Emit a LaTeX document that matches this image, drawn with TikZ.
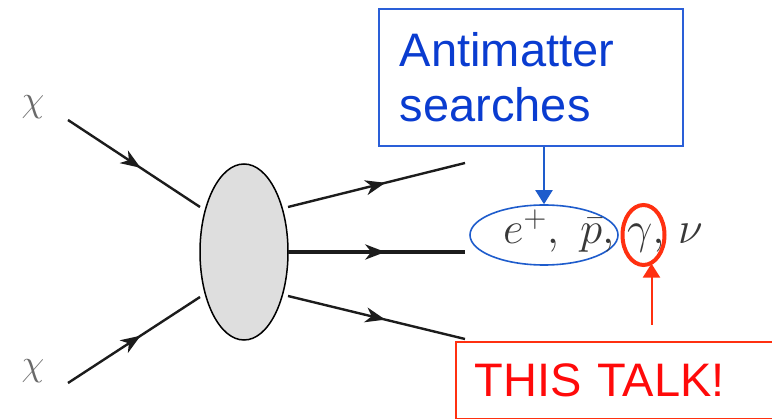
\documentclass[tikz,border=0pt]{standalone}
\usepackage{fix-cm}
\usepackage[no-math]{fontspec}
\newfontfamily\arialish{Liberation Sans}
\usetikzlibrary{arrows.meta,decorations.markings,shapes.geometric}
\definecolor{boxblue}{HTML}{2A5FD8}
\definecolor{txtblue}{HTML}{0A3CD0}
\definecolor{ellblue}{HTML}{1E5CCC}
\definecolor{boxred}{HTML}{FF3010}
\definecolor{txtred}{HTML}{FF0A0A}
\definecolor{mathgrey}{HTML}{383838}
\definecolor{chigrey}{HTML}{6A6A6A}
\definecolor{blobgrey}{HTML}{DEDEDE}
\definecolor{linegrey}{HTML}{1C1C1C}
\tikzset{
  fermion/.style={line width=2.4pt, draw=linegrey,
    postaction={decorate},
    decoration={markings, mark=at position #1 with {\arrow[linegrey]{Stealth[length=20pt,width=15pt,inset=6pt]}}}},
  fermion/.default=0.55,
  chilabel/.style={text=chigrey, inner sep=0pt, font=\fontsize{37}{40}\selectfont},
  mathlabel/.style={text=mathgrey, inner sep=0pt, font=\fontsize{45}{50}\selectfont},
  bluebox/.style={draw=boxblue, line width=1.8pt, text=txtblue, align=left,
    font=\arialish\fontsize{47}{55}\selectfont, anchor=north west},
  redbox/.style={draw=boxred, line width=1.8pt, text=txtred, align=left,
    font=\arialish\fontsize{47}{55}\selectfont, anchor=north west},
  callout/.style={line width=2pt, -{Triangle[length=14pt,width=17pt]}},
}
\begin{document}
\begin{tikzpicture}[x=1pt,y=-1pt]
\useasboundingbox (0,0) rectangle (772,419);
\fill[white] (0,0) rectangle (772,419);
\clip (0,0) rectangle (772,419);

% blob
\node (blob) [ellipse, draw=black, line width=1.5pt, fill=blobgrey,
  minimum width=88pt, minimum height=176pt, inner sep=0pt] at (244,252) {};

% chi labels
\node (chitop) [chilabel] at (33,107) {$\chi$};
\node (chibot) [chilabel] at (33,371) {$\chi$};

% coordinates
\coordinate (intop) at (68,120);
\coordinate (inbot) at (68,383);
\coordinate (blobnw) at (200,207);
\coordinate (blobsw) at (200,297);
\coordinate (blobne) at (288,207);
\coordinate (blobe) at (288,252);
\coordinate (blobse) at (288,296);
\coordinate (outtop) at (465,163);
\coordinate (outmid) at (465,252);
\coordinate (outbot) at (465,339);

\draw[fermion] (intop) -- (blobnw);
\draw[fermion] (inbot) -- (blobsw);
\draw[fermion] (blobne) -- (outtop);
\draw[fermion, line width=3.8pt] (blobe) -- (outmid);
\draw[fermion] (blobse) -- (outbot);

% products
\node (antiell) [ellipse, draw=ellblue, line width=1.6pt, minimum width=148pt,
  minimum height=60pt, inner sep=0pt] at (544,235) {};
\node (gamell) [ellipse, draw=boxred, line width=4pt, minimum width=42pt,
  minimum height=60pt, inner sep=0pt] at (643.5,235) {};
\node (prodep) [mathlabel, anchor=base west] at (503,244) {$e^+,\ \bar p,$};
\node (prodg) [mathlabel, anchor=base west] at (627,244) {$\gamma,$};
\node (prodn) [mathlabel, anchor=base west] at (678,244) {$\nu$};

% boxes
\node (anti) [bluebox, minimum width=304pt, minimum height=137pt, text width=262pt,
  inner xsep=21pt, inner ysep=20pt] at (378,8) {Antimatter\\searches};
\node (talk) [redbox, text width=300pt, inner xsep=19pt, inner ysep=22pt]
  at (455,341) {THIS TALK!};

\coordinate (talktop) at (651.5,325);
\draw[callout, draw=ellblue, fill=ellblue] (anti.south -| antiell.north) -- (antiell.north);
\draw[callout, draw=boxred, fill=boxred] (talktop) -- (talktop |- gamell.-70);
\end{tikzpicture}
\end{document}
